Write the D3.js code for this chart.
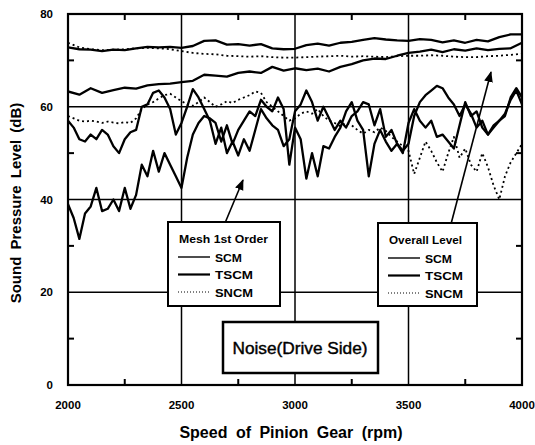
<!DOCTYPE html>
<html>
<head>
<meta charset="utf-8">
<script src="https://d3js.org/d3.v7.min.js"></script>
<style>
  body { margin: 0; background: #fff; }
  svg text { font-family: 'Liberation Sans', Arial, sans-serif; font-weight: bold; fill: #000; }
</style>
</head>
<body>
<script>
// rpm samples
var rpmOverall = d3.range(2000, 4001, 50);
var rpmMesh = d3.range(2000, 4001, 25);

// Overall level (dB), every 50 rpm
var overallSCM = [72.8,72.4,72.3,72.0,72.3,72.2,72.6,72.9,72.8,72.9,72.7,73.1,74.2,74.3,73.4,73.5,73.2,73.5,72.6,72.4,
  72.5,73.3,73.6,73.2,73.8,74.0,74.4,74.8,74.5,74.3,74.2,74.6,74.4,73.9,74.3,73.8,74.4,74.1,75.0,75.6,75.6];
var overallTSCM = [63.3,62.6,64.0,63.0,63.6,64.1,63.9,64.6,64.9,65.0,65.3,65.6,66.9,66.7,66.5,67.3,67.6,67.3,68.6,67.8,
  68.3,67.9,68.2,67.6,68.6,69.2,70.0,70.4,70.3,71.0,71.6,71.9,72.3,71.8,72.4,72.1,72.6,72.2,72.5,72.6,73.8];
var overallSNCM = [73.8,72.8,72.4,72.2,72.3,72.4,72.6,72.7,72.6,72.4,72.0,71.6,71.4,71.3,71.0,70.9,70.8,70.9,70.7,70.6,
  70.6,70.7,70.8,70.9,71.0,70.8,70.9,70.8,70.7,70.9,71.0,71.0,71.1,71.0,70.8,70.7,70.7,70.9,71.0,71.2,71.4];

// Mesh 1st order (dB), every 25 rpm
var meshSCM = [57.0,55.5,53.0,52.5,54.0,53.0,55.0,54.0,51.5,50.0,53.0,54.5,55.0,60.0,60.5,63.0,63.5,62.0,59.5,54.0,
  56.5,60.0,63.8,62.0,59.5,57.0,52.0,55.5,50.0,52.5,49.5,53.0,50.5,55.0,59.5,57.5,56.0,55.0,51.5,53.0,
  59.0,60.5,63.5,61.0,57.0,60.0,57.5,55.0,57.0,55.5,58.0,59.0,61.0,60.5,56.0,59.5,53.5,55.0,52.0,50.5,
  52.0,58.0,61.0,62.5,63.5,64.5,64.0,62.0,60.5,58.0,60.5,58.5,55.5,57.0,54.0,55.5,57.0,58.0,62.0,64.0,62.0];
var meshTSCM = [39.0,36.0,31.5,37.0,38.5,42.5,37.5,38.0,40.0,37.5,42.5,38.0,41.0,47.5,45.0,50.5,46.0,50.0,47.5,45.0,
  42.5,49.0,54.0,56.5,58.0,57.5,56.5,52.5,56.0,52.0,55.0,57.0,59.0,58.0,61.5,60.0,59.0,62.0,59.5,47.5,
  55.5,53.0,44.5,50.0,45.0,51.5,51.0,53.5,55.5,59.0,61.0,57.0,55.0,45.0,52.0,55.0,52.5,50.5,52.0,50.0,
  56.5,59.5,57.0,55.5,57.0,53.5,54.0,52.5,51.0,56.0,61.0,58.0,59.0,55.5,54.0,56.0,57.0,58.5,61.5,63.5,60.5];
var meshSNCM = [58.0,57.5,57.0,56.8,57.0,56.8,56.5,56.8,56.6,56.4,56.7,56.5,57.5,59.5,60.5,61.0,61.8,62.5,62.8,62.0,
  61.2,60.5,60.2,61.0,62.0,61.0,60.0,60.5,61.2,60.8,61.5,62.0,62.5,63.3,63.0,61.0,60.0,59.0,58.0,57.0,
  57.5,58.5,59.0,58.5,59.5,58.0,57.0,56.5,55.8,56.5,56.0,55.0,54.2,55.0,54.5,55.5,54.8,53.5,52.5,51.5,
  50.5,45.5,49.0,52.5,50.5,48.0,46.0,50.0,53.5,49.0,51.0,47.5,46.0,50.0,47.0,43.0,40.0,45.0,48.0,50.0,52.0];

var xTicks = [2000, 2500, 3000, 3500, 4000];
var yTicks = [0, 20, 40, 60, 80];
var xMinor = [2250, 2750, 3250, 3750];
var yMinor = [10, 30, 50, 70];

var svg = d3.select("body").append("svg")
    .attr("width", 535)
    .attr("height", 445);

var pL = 68, pR = 522, pT = 14, pB = 385;

var x = d3.scaleLinear().domain([2000, 4000]).range([pL, pR]);
var y = d3.scaleLinear().domain([0, 80]).range([pB, pT]);

svg.append("clipPath").attr("id", "plot")
  .append("rect").attr("x", pL).attr("y", pT)
  .attr("width", pR - pL).attr("height", pB - pT);

// grid lines
svg.selectAll(".vgrid").data(xTicks.slice(1, -1)).enter().append("line")
    .attr("x1", function(d) { return x(d); }).attr("x2", function(d) { return x(d); })
    .attr("y1", pT).attr("y2", pB)
    .attr("stroke", "#000").attr("stroke-width", 1.5);
svg.selectAll(".hgrid").data(yTicks.slice(1, -1)).enter().append("line")
    .attr("x1", pL).attr("x2", pR)
    .attr("y1", function(d) { return y(d); }).attr("y2", function(d) { return y(d); })
    .attr("stroke", "#000").attr("stroke-width", 1.5);

// minor ticks pointing inward
xMinor.forEach(function(v) {
  svg.append("line").attr("x1", x(v)).attr("x2", x(v)).attr("y1", pT).attr("y2", pT + 6)
    .attr("stroke", "#000").attr("stroke-width", 2);
  svg.append("line").attr("x1", x(v)).attr("x2", x(v)).attr("y1", pB).attr("y2", pB - 6)
    .attr("stroke", "#000").attr("stroke-width", 2);
});
yMinor.forEach(function(v) {
  svg.append("line").attr("x1", pL).attr("x2", pL + 6).attr("y1", y(v)).attr("y2", y(v))
    .attr("stroke", "#000").attr("stroke-width", 2);
  svg.append("line").attr("x1", pR).attr("x2", pR - 6).attr("y1", y(v)).attr("y2", y(v))
    .attr("stroke", "#000").attr("stroke-width", 2);
});

// series
var series = [
  {rpm: rpmOverall, v: overallSCM, dash: null, w: 2.3},
  {rpm: rpmOverall, v: overallTSCM, dash: null, w: 2.3},
  {rpm: rpmOverall, v: overallSNCM, dash: "2,3", w: 1.8},
  {rpm: rpmMesh, v: meshSNCM, dash: "2,3", w: 1.8},
  {rpm: rpmMesh, v: meshSCM, dash: null, w: 2.3},
  {rpm: rpmMesh, v: meshTSCM, dash: null, w: 2.3}
];

var line = d3.line()
    .x(function(d) { return x(d[0]); })
    .y(function(d) { return y(d[1]); });

var plotG = svg.append("g").attr("clip-path", "url(#plot)");
series.forEach(function(s) {
  var pts = s.rpm.map(function(r, i) { return [r, s.v[i]]; });
  plotG.append("path")
    .datum(pts)
    .attr("fill", "none")
    .attr("stroke", "#000")
    .attr("stroke-width", s.w)
    .attr("stroke-linejoin", "round")
    .attr("stroke-dasharray", s.dash)
    .attr("d", line);
});

// frame
svg.append("rect").attr("x", pL).attr("y", pT)
  .attr("width", pR - pL).attr("height", pB - pT)
  .attr("fill", "none").attr("stroke", "#000").attr("stroke-width", 2.2);

// tick labels
svg.selectAll(".xl").data(xTicks).enter().append("text")
    .attr("x", function(d) { return x(d); })
    .attr("y", 409)
    .attr("text-anchor", "middle")
    .style("font-size", "11.5px")
    .text(function(d) { return d; });
svg.selectAll(".yl").data(yTicks).enter().append("text")
    .attr("x", 53)
    .attr("y", function(d) { return y(d) + 4; })
    .attr("text-anchor", "end")
    .style("font-size", "11.5px")
    .text(function(d) { return d; });

// axis titles
svg.append("text")
    .attr("transform", "translate(21,203) rotate(-90)")
    .attr("text-anchor", "middle")
    .style("font-size", "15px")
    .style("word-spacing", "3px")
    .text("Sound Pressure Level (dB)");
svg.append("text")
    .attr("x", 291).attr("y", 438)
    .attr("text-anchor", "middle")
    .style("font-size", "16px")
    .style("word-spacing", "4px")
    .text("Speed of Pinion Gear (rpm)");

// arrows
svg.append("defs").append("marker")
    .attr("id", "head").attr("viewBox", "0 0 10 10")
    .attr("refX", 9).attr("refY", 5)
    .attr("markerWidth", 11).attr("markerHeight", 11)
    .attr("markerUnits", "userSpaceOnUse")
    .attr("orient", "auto")
  .append("path").attr("d", "M0,1L10,5L0,9Z").attr("fill", "#000");
svg.append("line").attr("x1", 225).attr("y1", 223).attr("x2", 243).attr("y2", 180)
    .attr("stroke", "#000").attr("stroke-width", 1.6).attr("marker-end", "url(#head)");
svg.append("line").attr("x1", 451).attr("y1", 224).attr("x2", 491).attr("y2", 72)
    .attr("stroke", "#000").attr("stroke-width", 1.6).attr("marker-end", "url(#head)");

// legends
function legend(x0, y0, w, h, title, titleW) {
  var g = svg.append("g");
  g.append("rect").attr("x", x0).attr("y", y0).attr("width", w).attr("height", h)
    .attr("fill", "#fff").attr("stroke", "#000").attr("stroke-width", 2);
  g.append("text").attr("x", x0 + 11).attr("y", y0 + 21).style("font-size", "10.5px")
    .attr("textLength", titleW).attr("lengthAdjust", "spacingAndGlyphs").text(title);
  var items = [["SCM", null, 1.4, 27], ["TSCM", null, 2.2, 38], ["SNCM", "1,2", 1, 38]];
  items.forEach(function(it, i) {
    var yy = y0 + 35 + i * 17.5;
    g.append("line").attr("x1", x0 + 10).attr("x2", x0 + 42).attr("y1", yy).attr("y2", yy)
      .attr("stroke", "#000").attr("stroke-width", it[2]).attr("stroke-dasharray", it[1]);
    g.append("text").attr("x", x0 + 47).attr("y", yy + 4.5).style("font-size", "11px")
      .attr("textLength", it[3]).attr("lengthAdjust", "spacingAndGlyphs").text(it[0]);
  });
}
legend(168, 222, 112, 84, "Mesh 1st Order", 89);
legend(378, 223, 99, 83, "Overall Level", 73);

// title box
svg.append("rect").attr("x", 223).attr("y", 322).attr("width", 155).attr("height", 51)
    .attr("fill", "#fff").attr("stroke", "#000").attr("stroke-width", 2.5);
svg.append("text").attr("x", 300).attr("y", 354).attr("text-anchor", "middle")
    .style("font-size", "16px").style("font-weight", "normal").style("stroke", "#000").style("stroke-width", 0.4)
    .attr("textLength", 135).attr("lengthAdjust", "spacingAndGlyphs")
    .text("Noise(Drive Side)");
</script>
</body>
</html>
